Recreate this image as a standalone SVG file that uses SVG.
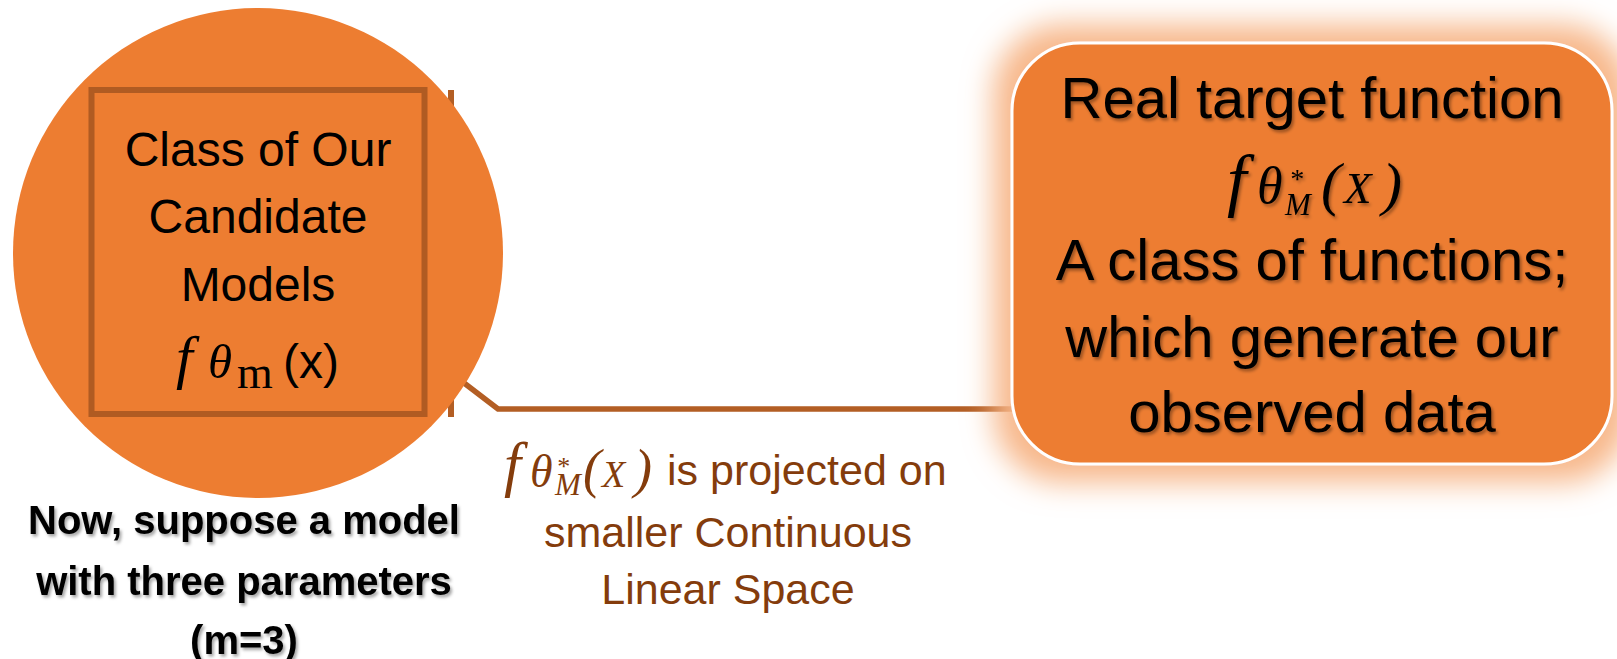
<svg xmlns="http://www.w3.org/2000/svg" width="1617" height="659" viewBox="0 0 1617 659">
<defs>
<style>
.sans{font-family:"Liberation Sans",Arial,sans-serif;}
.math{font-family:"Liberation Serif","Times New Roman",serif;font-style:italic;}
.rm{font-family:"Liberation Serif","Times New Roman",serif;font-style:normal;}
.ss{font-family:"Liberation Sans",Arial,sans-serif;font-style:normal;}
.brown{fill:#843C0C;}
.blk{fill:#000;}
.conn{fill:none;stroke:#B35E24;stroke-width:5.5;stroke-linejoin:miter;}
</style>
<filter id="ts" x="-10%" y="-20%" width="120%" height="150%">
<feDropShadow dx="2" dy="2.5" stdDeviation="1.5" flood-color="#000" flood-opacity="0.35"/>
</filter>
<filter id="glow" x="-25%" y="-30%" width="150%" height="160%">
<feMorphology in="SourceAlpha" operator="dilate" radius="17" result="d"/>
<feGaussianBlur in="d" stdDeviation="15" result="b"/>
<feFlood flood-color="#F7B78A" flood-opacity="1"/>
<feComposite in2="b" operator="in" result="g"/>
<feMerge><feMergeNode in="g"/><feMergeNode in="SourceGraphic"/></feMerge>
</filter>
</defs>

<g id="connectors">
<line x1="451" y1="90" x2="451" y2="417" class="conn" style="stroke-width:6"/>
<polyline points="451,373 498,409 1014,409" class="conn"/>
</g>

<g id="candidate-models">
<circle cx="258" cy="253" r="245" fill="#ED7D31"/>
<rect x="91.5" y="90" width="333" height="324" fill="none" stroke="#B05B22" stroke-width="6"/>
<g class="sans blk" font-size="48" text-anchor="middle">
<text x="258" y="166">Class of Our</text>
<text x="258" y="233">Candidate</text>
<text x="258" y="301">Models</text>
</g>
<text class="math blk"><tspan font-size="60" x="176" y="377">f</tspan><tspan font-size="49" x="208" y="378">θ</tspan><tspan class="rm" font-size="46" x="237" y="388">m</tspan><tspan class="ss" font-size="48" x="283" y="378">(x)</tspan></text>
</g>

<g id="model-caption" filter="url(#ts)">
<g class="sans blk" font-size="40" font-weight="bold" text-anchor="middle">
<text x="244" y="534">Now, suppose a model</text>
<text x="244" y="595">with three parameters</text>
<text x="244" y="654">(m=3)</text>
</g>
</g>

<g id="projection-label">
<text class="math brown"><tspan font-size="61" x="504" y="485">f</tspan><tspan font-size="46" x="530" y="487">θ</tspan><tspan font-size="26" x="556" y="475">*</tspan><tspan font-size="31" x="555" y="495">M</tspan><tspan font-size="54" x="583" y="487">(</tspan><tspan font-size="38" x="602" y="487">X</tspan><tspan font-size="54" x="634" y="487">)</tspan></text>
<g class="sans brown" font-size="43">
<text x="667" y="485">is projected on</text>
<text x="728" y="547" text-anchor="middle">smaller Continuous</text>
<text x="728" y="604" text-anchor="middle">Linear Space</text>
</g>
</g>

<g id="target-function">
<rect x="1012" y="43" width="600" height="421" rx="68" ry="68" fill="#ED7D31" stroke="#FFFFFF" stroke-width="3" filter="url(#glow)"/>
<g filter="url(#ts)">
<g class="sans blk" font-size="58" text-anchor="middle">
<text x="1312" y="118">Real target function</text>
<text x="1312" y="280">A class of functions;</text>
<text x="1312" y="357">which generate our</text>
<text x="1312" y="432">observed data</text>
</g>
<text class="math blk"><tspan font-size="70" x="1227" y="203">f</tspan><tspan font-size="52" x="1257" y="203">θ</tspan><tspan font-size="28" x="1289" y="188">*</tspan><tspan font-size="31" x="1285" y="215">M</tspan><tspan font-size="60" x="1321" y="204">(</tspan><tspan font-size="45" x="1344" y="203">X</tspan><tspan font-size="60" x="1382" y="204">)</tspan></text>
</g>
</g>
</svg>
